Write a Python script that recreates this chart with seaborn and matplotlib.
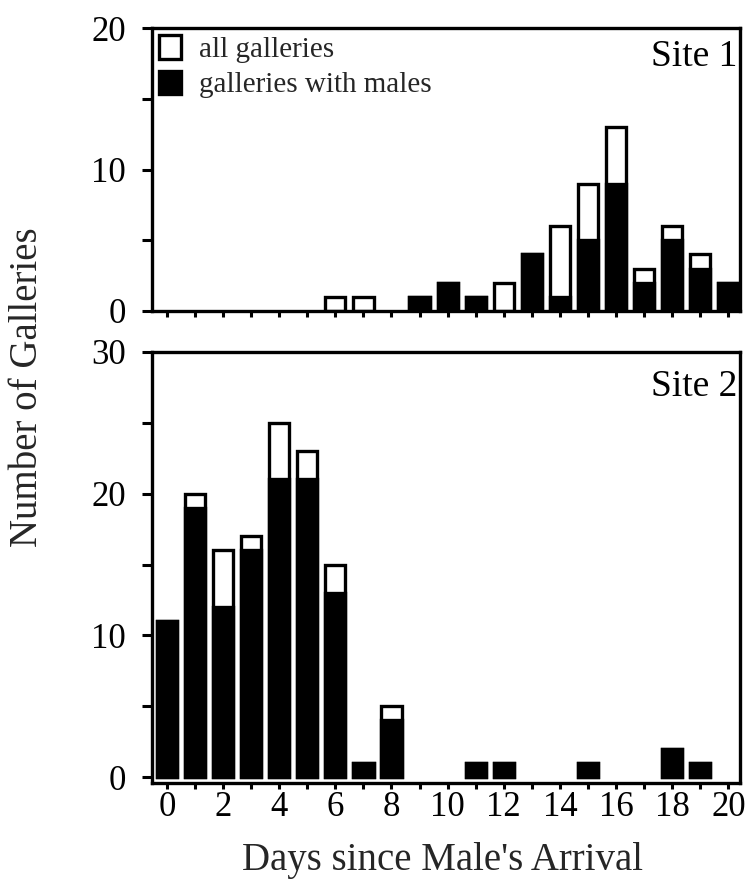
import numpy as np
import pandas as pd
import matplotlib
matplotlib.use("Agg")
import matplotlib.pyplot as plt
import seaborn as sns
from matplotlib.patches import Patch
from matplotlib.ticker import MultipleLocator

# Days since the male's arrival (0..20)
days = list(range(21))

# Site 1: number of galleries per day
site1_all = [0, 0, 0, 0, 0, 0, 1, 1, 0, 1, 2, 1, 2, 4, 6, 9, 13, 3, 6, 4, 2]
site1_males = [0, 0, 0, 0, 0, 0, 0, 0, 0, 1, 2, 1, 0, 4, 1, 5, 9, 2, 5, 3, 2]

# Site 2: number of galleries per day
site2_all = [11, 20, 16, 17, 25, 23, 15, 1, 5, 0, 0, 1, 1, 0, 0, 1, 0, 0, 2, 1, 0]
site2_males = [11, 19, 12, 16, 21, 21, 13, 1, 4, 0, 0, 1, 1, 0, 0, 1, 0, 0, 2, 1, 0]

x_ticklabels = [str(d) if d % 2 == 0 else "" for d in days]

sns.set_theme(style="ticks")
plt.rcParams["font.family"] = ["Liberation Serif", "DejaVu Serif"]

LW = 2.4
fig = plt.figure(figsize=(7.47, 8.81), dpi=100)
ax1 = fig.add_axes([0.2035, 0.647, 0.787, 0.321])
ax2 = fig.add_axes([0.2035, 0.1112, 0.787, 0.4893])


def draw_site(ax, all_vals, male_vals, ylim, yticks, label):
    df = pd.DataFrame({"day": days, "all": all_vals, "males": male_vals})
    d_all = df[df["all"] > 0]
    d_m = df[df["males"] > 0]
    sns.barplot(data=d_all, x="day", y="all", order=days, color="white",
                edgecolor="black", linewidth=LW, width=0.72, saturation=1,
                ax=ax, errorbar=None)
    sns.barplot(data=d_m, x="day", y="males", order=days, color="black",
                edgecolor="black", linewidth=LW, width=0.72, saturation=1,
                ax=ax, errorbar=None)
    ax.set_xlim(-0.53, 20.41)
    ax.set_ylim(*ylim)
    ax.set_yticks(yticks)
    ax.yaxis.set_minor_locator(MultipleLocator(5))
    ax.set_xlabel("")
    ax.set_ylabel("")
    for sp in ax.spines.values():
        sp.set_visible(True)
        sp.set_linewidth(LW)
        sp.set_color("black")
    ax.tick_params(axis="both", which="both", direction="out", width=2.2,
                   color="black", labelsize=25, labelcolor="black")
    ax.tick_params(axis="y", which="both", length=7, pad=12)
    ax.tick_params(axis="x", which="major", length=4.5, pad=1)
    ax.text(0.996, 0.96, label, transform=ax.transAxes, ha="right",
            va="top", fontsize=27, color="black")


draw_site(ax1, site1_all, site1_males, (0, 20), [0, 10, 20], "Site 1")
draw_site(ax2, site2_all, site2_males, (-0.42, 30), [0, 10, 20, 30], "Site 2")

ax1.set_xticks(range(len(days)))
ax1.set_xticklabels([])
ax2.set_xticks(range(len(days)))
ax2.set_xticklabels(x_ticklabels)

handles = [Patch(facecolor="white", edgecolor="black", linewidth=LW),
           Patch(facecolor="black", edgecolor="black", linewidth=LW)]
ax1.legend(handles, ["all galleries", "galleries with males"], loc="upper left",
           bbox_to_anchor=(0.0, 1.0), frameon=False, fontsize=21,
           handlelength=0.75, handleheight=0.85, handletextpad=0.6,
           borderaxespad=0.0, labelspacing=0.25, borderpad=0.25)

fig.text(0.037, 0.56, "Number of Galleries", rotation=90, ha="center",
         va="center", fontsize=28)
fig.text(0.593, 0.0125, "Days since Male's Arrival", ha="center",
         va="baseline", fontsize=28)

fig.savefig("out.png", dpi=100, facecolor="white")
